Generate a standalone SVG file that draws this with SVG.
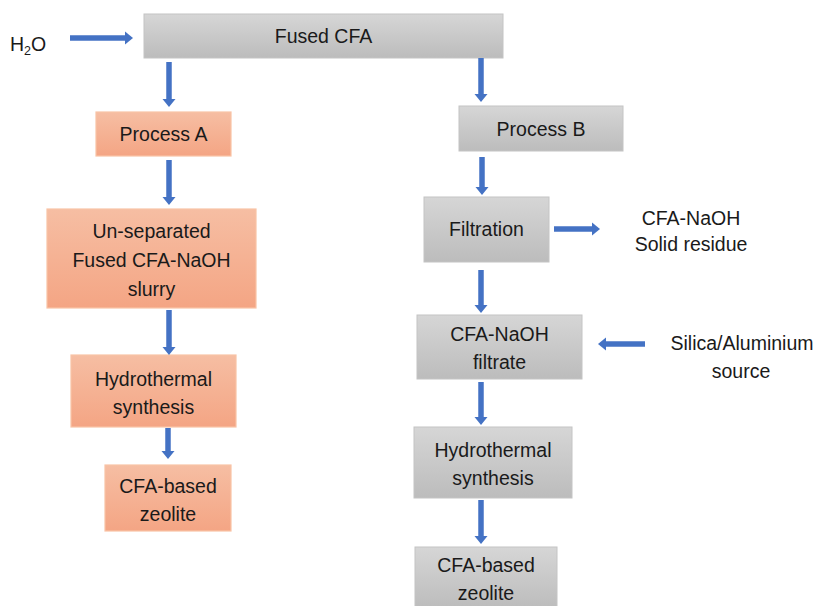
<svg xmlns="http://www.w3.org/2000/svg" width="825" height="606" viewBox="0 0 825 606">
<defs>
<linearGradient id="gGray" x1="0" y1="0" x2="0" y2="1">
<stop offset="0" stop-color="#d6d6d6"/><stop offset="1" stop-color="#bcbcbc"/>
</linearGradient>
<linearGradient id="gOrange" x1="0" y1="0" x2="0" y2="1">
<stop offset="0" stop-color="#f6bea3"/><stop offset="1" stop-color="#f4a584"/>
</linearGradient>
<marker id="ah" markerUnits="userSpaceOnUse" markerWidth="14" markerHeight="14" refX="0" refY="7" orient="auto">
<path d="M0,0.5 L8,7 L0,13.5 Z" fill="#4472c4"/>
</marker>
<style>
.gray{fill:url(#gGray);stroke:#c4c4c4;stroke-width:1}
.orange{fill:url(#gOrange);stroke:#f8c3a6;stroke-width:1.2}
.t{font-family:"Liberation Sans",Arial,sans-serif;font-size:19.5px;fill:#1a1a1a;text-anchor:middle}
.c{stroke:#4472c4;stroke-width:5.5;fill:none;marker-end:url(#ah)}
</style>
</defs>
<g id="h2o"><text class="t" x="10" y="51" style="text-anchor:start">H<tspan font-size="12.5" dy="4">2</tspan><tspan dy="-4">O</tspan></text></g>
<g id="fused"><rect class="gray" x="144" y="14" width="359" height="44"/><text class="t" x="323.5" y="43">Fused CFA</text></g>
<g id="processA"><rect class="orange" x="96" y="112" width="135" height="44"/><text class="t" x="163.5" y="141">Process A</text></g>
<g id="unsep"><rect class="orange" x="47" y="209" width="209" height="99"/><text class="t" x="151.5" y="238">Un-separated</text><text class="t" x="151.5" y="267">Fused CFA-NaOH</text><text class="t" x="151.5" y="296">slurry</text></g>
<g id="hydroA"><rect class="orange" x="71" y="355" width="165" height="72"/><text class="t" x="153.5" y="386">Hydrothermal</text><text class="t" x="153.5" y="414">synthesis</text></g>
<g id="zeoA"><rect class="orange" x="105" y="465" width="126" height="66"/><text class="t" x="168" y="493">CFA-based</text><text class="t" x="168" y="521">zeolite</text></g>
<g id="processB"><rect class="gray" x="459" y="106" width="164" height="45"/><text class="t" x="541" y="136">Process B</text></g>
<g id="filtration"><rect class="gray" x="424" y="197" width="125" height="65"/><text class="t" x="486.5" y="236">Filtration</text></g>
<g id="residue"><text class="t" x="691" y="225">CFA-NaOH</text><text class="t" x="691" y="251">Solid residue</text></g>
<g id="filtrate"><rect class="gray" x="417" y="315" width="165" height="64"/><text class="t" x="499.5" y="341">CFA-NaOH</text><text class="t" x="499.5" y="369">filtrate</text></g>
<g id="silica"><text class="t" x="742" y="350">Silica/Aluminium</text><text class="t" x="741" y="378">source</text></g>
<g id="hydroB"><rect class="gray" x="414" y="427" width="158" height="71"/><text class="t" x="493" y="457">Hydrothermal</text><text class="t" x="493" y="485">synthesis</text></g>
<g id="zeoB"><rect class="gray" x="415" y="547" width="142" height="62"/><text class="t" x="486" y="572">CFA-based</text><text class="t" x="486" y="600">zeolite</text></g>
<g id="connectors">
<line class="c" x1="70" y1="38" x2="125" y2="38"/>
<line class="c" x1="169" y1="62" x2="169" y2="99"/>
<line class="c" x1="481" y1="58" x2="481" y2="94"/>
<line class="c" x1="169" y1="160" x2="169" y2="197"/>
<line class="c" x1="169" y1="310" x2="169" y2="347"/>
<line class="c" x1="168" y1="428" x2="168" y2="451"/>
<line class="c" x1="482" y1="157" x2="482" y2="187"/>
<line class="c" x1="554" y1="229" x2="592" y2="229"/>
<line class="c" x1="481" y1="270" x2="481" y2="305"/>
<line class="c" x1="645" y1="344" x2="606" y2="344"/>
<line class="c" x1="481" y1="382" x2="481" y2="417"/>
<line class="c" x1="481" y1="500" x2="481" y2="536"/>
</g>
</svg>
